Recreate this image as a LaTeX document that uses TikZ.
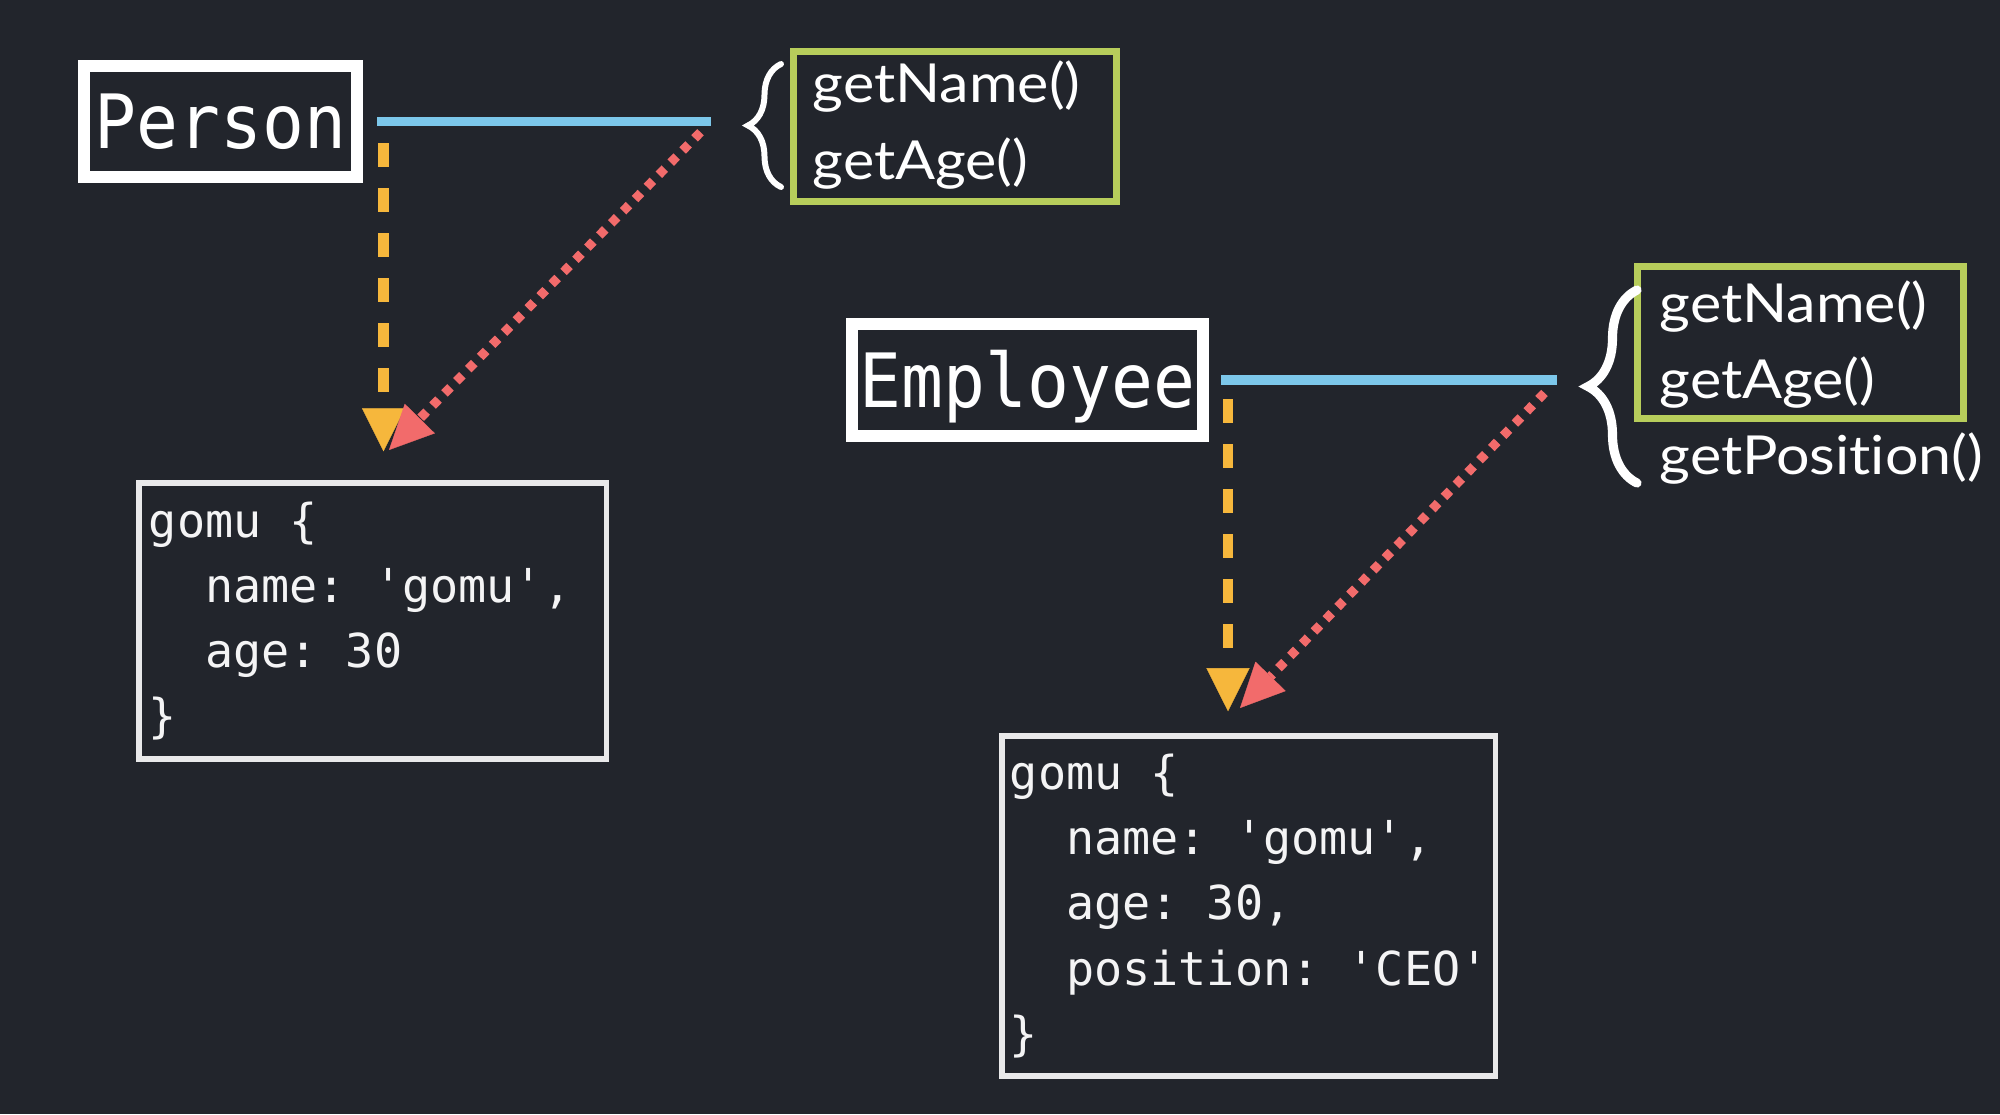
\documentclass[tikz,border=0pt]{standalone}
\usepackage{fontspec}
\usetikzlibrary{arrows.meta,decorations.pathreplacing}
\newfontfamily\titlefont[FakeStretch=0.93,Ligatures=TeXOff]{DejaVu Sans Mono}
\newfontfamily\codefont[Ligatures=TeXOff]{DejaVu Sans Mono}
\newfontfamily\methfont[FakeStretch=1.1,Ligatures={NoCommon,NoDiscretionary}]{Lato}
\newcommand\csp{\leavevmode\hbox to 0.602em{}}
\definecolor{bg}{HTML}{22252C}
\definecolor{lblue}{HTML}{7CC7EA}
\definecolor{orangec}{HTML}{F6B73C}
\definecolor{redc}{HTML}{F26B6B}
\definecolor{mgreen}{HTML}{B7CD5B}
\tikzset{
  classbox/.style={draw=white, line width=3.4pt, fill=bg, text=white, inner sep=0pt,
    font=\titlefont\fontsize{21.3pt}{24pt}\selectfont, text height=15.5pt, text depth=0pt},
  methbox/.style={draw=mgreen, line width=2pt, inner sep=0pt},
  codebox/.style={draw=white!90!bg, line width=1.5pt, text=white!95!bg, align=left,
    font=\codefont\fontsize{13.3pt}{18.5pt}\selectfont, inner xsep=0.1cm, inner ysep=0pt},
  methtext/.style={anchor=base west, text=white, inner sep=0pt,
    font=\methfont\fontsize{15.3pt}{18pt}\selectfont},
  protoline/.style={draw=lblue, line width=2.6pt},
  inherit/.style={draw=orangec, line width=3pt, dash pattern=on 0.24cm off 0.21cm,
    -{Triangle[length=0.43cm,width=0.43cm,line width=0.1pt]}},
  lookup/.style={draw=redc, line width=2.6pt, dash pattern=on 0.085cm off 0.085cm,
    -{Triangle[length=0.44cm,width=0.42cm,line width=0.1pt]}},
  bracesmall/.style={draw=white, line width=1.7pt, line cap=round, decorate,
    decoration={brace, amplitude=0.33cm}},
  bracelarge/.style={draw=white, line width=2.6pt, line cap=round, decorate,
    decoration={brace, amplitude=0.49cm}},
}
\begin{document}
\begin{tikzpicture}[x=0.01cm, y=-0.01cm]
\useasboundingbox (0,0) rectangle (2000,1114);
\fill[bg] (0,0) rectangle (2000,1114);

% ---- Person ----
\node[classbox, minimum width=2.73cm, minimum height=1.11cm] (person) at (220.5,121.5) {Person};
\node[methbox, minimum width=3.23cm, minimum height=1.50cm] (gbox1) at (955,126.5) {};
\node[methtext] (p1) at (812,102) {getName()};
\node[methtext] (p2) at (812,179) {getAge()};
\draw[bracesmall] (781,187) -- (781,64);
\node[codebox, minimum width=4.67cm, minimum height=2.76cm, text width=4.47cm] (pobj) at (372.5,621)
  {gomu\csp\{\\\csp\csp name:\csp'gomu',\\\csp\csp age:\csp30\\\}};
\coordinate (pm) at (711,121.5);
\coordinate (pa) at (383.5,143);
\coordinate (ptip) at (389,450);
\draw[protoline] ([xshift=0.14cm]person.east) -- (pm);
\draw[inherit, shorten >=0.29cm] (pa) -- (pa |- pobj.north);
\draw[lookup, shorten <=0.15cm] (pm) -- (ptip);

% ---- Employee ----
\node[classbox, minimum width=3.51cm, minimum height=1.12cm] (employee) at (1027.5,380) {Employee};
\node[methbox, minimum width=3.26cm, minimum height=1.52cm] (gbox2) at (1800.5,342.5) {};
\node[methtext] (e1) at (1659,322) {getName()};
\node[methtext] (e2) at (1659,398) {getAge()};
\node[methtext] (e3) at (1659,474) {getPosition()};
\draw[bracelarge] (1637,483) -- (1637,290);
\node[codebox, minimum width=4.93cm, minimum height=3.40cm, text width=4.77cm, inner xsep=0.08cm] (eobj) at (1248.5,906)
  {gomu\csp\{\\\csp\csp name:\csp'gomu',\\\csp\csp age:\csp30,\\\csp\csp position:\csp'CEO'\\\}};
\coordinate (em) at (1557,380);
\coordinate (ea) at (1228,399);
\coordinate (etip) at (1240,708);
\draw[protoline] ([xshift=0.12cm]employee.east) -- (em);
\draw[inherit, shorten >=0.22cm] (ea) -- (ea |- eobj.north);
\draw[lookup, shorten <=0.18cm] (em) -- (etip);
\end{tikzpicture}
\end{document}
